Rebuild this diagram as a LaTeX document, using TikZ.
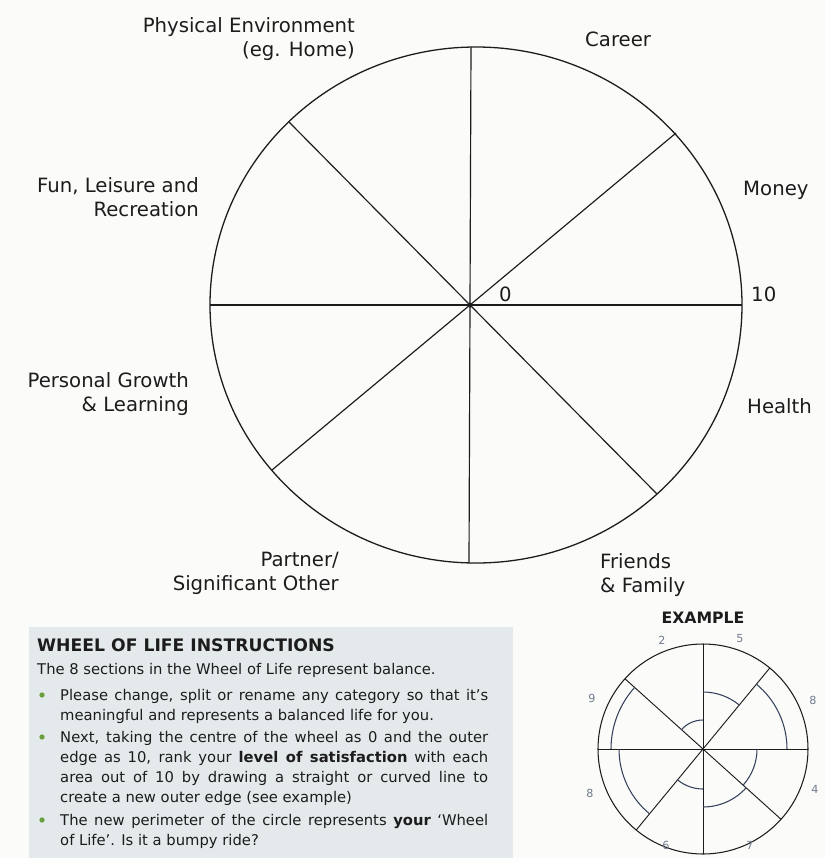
\documentclass[tikz,border=0pt]{standalone}
\usepackage{fontspec}
\setmainfont{DejaVu Sans}
\usetikzlibrary{calc}
\definecolor{paper}{RGB}{251,252,250}
\definecolor{panel}{RGB}{228,234,235}
\definecolor{ink}{RGB}{28,28,28}
\definecolor{dot}{RGB}{104,160,64}
\definecolor{score}{RGB}{52,64,92}
\hyphenpenalty=10000

\begin{document}
\begin{tikzpicture}[x=0.03cm,y=0.03cm,
    lbl/.style={inner sep=0pt,text=ink,font=\fontsize{16.8}{20.5}\selectfont},
    rim/.style={draw=ink,line width=1.1pt},
    spoke/.style={draw=ink,line width=1pt},
    inst/.style={inner sep=0pt,text=ink,anchor=base west,text width=12.84cm,align=justify,
      font=\fontsize{12.6}{17.1}\selectfont},
    bul/.style={circle,fill=dot,inner sep=0pt,minimum size=4.5pt},
    sc/.style={inner sep=0pt,text=score!70!white,font=\fontsize{9.5}{11}\selectfont},
    arcline/.style={draw=score,line width=0.9pt}]
  \fill[paper] (0,0) rectangle (825,-858);
  \useasboundingbox (0,0) rectangle (825,-858);

  % the wheel
  \coordinate (hub) at (470,-305);
  \draw[rim] (476,-305) ellipse (266 and 258);
  \foreach \p in {(471,-47),(676,-133),(742,-305),(657,-494),(469,-563),(272,-470),(210,-305),(289,-122)}
    \draw[spoke] (hub) -- \p;
  \fill[ink] (hub) circle (2.5);

  % categories
  \node[lbl,align=right,anchor=east] (home) at (355,-39) {Physical Environment\\(eg. Home)};
  \node[lbl,anchor=west] (career) at (585,-39) {Career};
  \node[lbl,anchor=west] (money) at (743,-190) {Money};
  \node[lbl,align=right,anchor=east] (fun) at (199,-197) {Fun, Leisure and\\Recreation};
  \node[lbl,anchor=west] (zero) at (499,-294) {0};
  \node[lbl,anchor=west] (ten) at (751,-294) {10};
  \node[lbl,align=right,anchor=east] (growth) at (189,-394) {Personal Growth\\\& Learning};
  \node[lbl,anchor=west] (health) at (747,-406) {Health};
  \node[lbl,align=right,anchor=east] (partner) at (339,-573) {Partner/\\Significant Other};
  \node[lbl,align=left,anchor=west] (friends) at (600,-575) {Friends\\\& Family};

  % instructions
  \fill[panel] (29,-627) rectangle (513,-858);
  \node[inner sep=0pt,anchor=west,text=ink,font=\bfseries\fontsize{14.7}{17}\selectfont] (title) at (37,-645) {WHEEL OF LIFE INSTRUCTIONS};
  \node[inner sep=0pt,anchor=west,text=ink,font=\fontsize{12.6}{17.1}\selectfont] (intro) at (37,-670) {The 8 sections in the Wheel of Life represent balance.};
  \node[inst] (stepa) at (60,-700) {Please change, split or rename any category so that it's\linebreak meaningful and represents a balanced life for you.};
  \node[inst] (stepb) at (60,-742) {Next, taking the centre of the wheel as 0 and the outer\linebreak edge as 10, rank your \textbf{level of satisfaction} with each\linebreak area out of 10 by drawing a straight or curved line to\linebreak create a new outer edge (see example)};
  \node[inst] (stepc) at (60,-825) {The new perimeter of the circle represents \textbf{your} `Wheel\linebreak of Life'. Is it a bumpy ride?};
  \foreach \y in {695,737,820}
    \node[bul] at (42,-\y) {};

  % example wheel
  \node[inner sep=0pt,text=ink,font=\bfseries\fontsize{13.4}{16}\selectfont] (extitle) at (703,-618) {EXAMPLE};
  \coordinate (ex) at (703,-749);
  \draw[rim,line width=0.9pt] (ex) circle (105);
  \foreach \a in {90,270,0,180,50.5,230.5,138,318}
    \draw[spoke,line width=0.8pt] (ex) -- ($(ex)+(\a:105)$);
  \foreach \s/\e/\r in {50.5/90/57,0/50.5/84,-42/0/54,-90/-42/58,230.5/270/40,180/230.5/84,138/180/92,90/138/29}
    \draw[arcline] ($(ex)+(\s:\r)$) arc[start angle=\s,end angle=\e,radius=\r];
  \foreach \x/\y/\t [count=\i] in {662/640/2,740/639/5,813/700/8,815/789/4,750/845/7,666/845/6,590/793/8,592/698/9}
    \node[sc] (sc\i) at (\x,-\y) {\t};
\end{tikzpicture}
\end{document}
